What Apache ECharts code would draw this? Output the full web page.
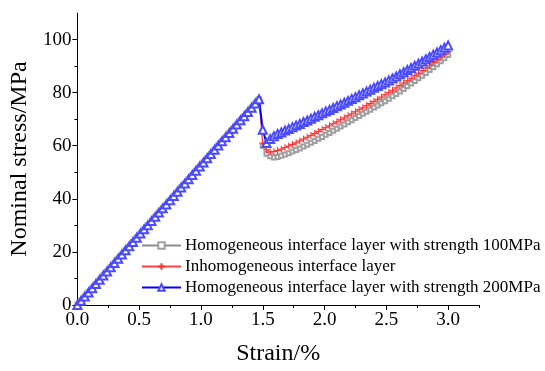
<!DOCTYPE html>
<html>
<head>
<meta charset="utf-8">
<script src="https://cdn.jsdelivr.net/npm/echarts@6/dist/echarts.min.js"></script>
<style>
  html, body { margin: 0; padding: 0; background: #fff; }
  #chart { width: 545px; height: 371px; }
</style>
</head>
<body>
<div id="chart"></div>
<script>
// Loading stage shared by all three models (linear elastic up to the peak)
const elasticStrain = [
  0.00, 0.03, 0.06, 0.09, 0.12, 0.15, 0.18, 0.21, 0.24, 0.27,
  0.30, 0.33, 0.36, 0.39, 0.42, 0.45, 0.48, 0.51, 0.54, 0.57,
  0.60, 0.63, 0.66, 0.69, 0.72, 0.75, 0.78, 0.81, 0.84, 0.87,
  0.90, 0.93, 0.96, 0.99, 1.02, 1.05, 1.08, 1.11, 1.14, 1.17,
  1.20, 1.23, 1.26, 1.29, 1.32, 1.35, 1.38, 1.41, 1.44, 1.47
];
const elasticStress = [
  0.0, 1.6, 3.2, 4.7, 6.3, 7.9, 9.5, 11.1, 12.6, 14.2,
  15.8, 17.4, 19.0, 20.6, 22.1, 23.7, 25.3, 26.9, 28.5, 30.0,
  31.6, 33.2, 34.8, 36.4, 37.9, 39.5, 41.1, 42.7, 44.3, 45.8,
  47.4, 49.0, 50.6, 52.2, 53.7, 55.3, 56.9, 58.5, 60.1, 61.7,
  63.2, 64.8, 66.4, 68.0, 69.6, 71.1, 72.7, 74.3, 75.9, 77.5
];

// Post-peak stage
const softeningStrain = [
  1.50, 1.53, 1.56, 1.59, 1.62, 1.65, 1.68, 1.71, 1.74, 1.77,
  1.80, 1.83, 1.86, 1.89, 1.92, 1.95, 1.98, 2.01, 2.04, 2.07,
  2.10, 2.13, 2.16, 2.19, 2.22, 2.25, 2.28, 2.31, 2.34, 2.37,
  2.40, 2.43, 2.46, 2.49, 2.52, 2.55, 2.58, 2.61, 2.64, 2.67,
  2.70, 2.73, 2.76, 2.79, 2.82, 2.85, 2.88, 2.91, 2.94, 2.97,
  3.00
];
const stressHomo100 = [
  60.0, 57.0, 56.0, 55.6, 55.8, 56.2, 56.7, 57.2, 57.8, 58.4,
  59.0, 59.7, 60.4, 61.1, 61.8, 62.6, 63.3, 64.1, 64.8, 65.6,
  66.4, 67.2, 68.0, 68.8, 69.6, 70.4, 71.2, 72.0, 72.8, 73.6,
  74.4, 75.2, 76.0, 76.8, 77.7, 78.6, 79.5, 80.4, 81.4, 82.4,
  83.4, 84.4, 85.4, 86.4, 87.4, 88.5, 89.6, 90.7, 91.8, 93.0,
  94.2
];
const stressInhomo = [
  61.0, 58.5, 57.6, 57.8, 58.2, 58.7, 59.3, 59.9, 60.5, 61.1,
  61.8, 62.5, 63.2, 63.9, 64.6, 65.4, 66.1, 66.8, 67.5, 68.3,
  69.0, 69.8, 70.5, 71.3, 72.0, 72.8, 73.6, 74.3, 75.1, 75.9,
  76.7, 77.5, 78.3, 79.2, 80.1, 80.9, 81.8, 82.7, 83.6, 84.5,
  85.4, 86.4, 87.3, 88.3, 89.3, 90.3, 91.3, 92.3, 93.4, 94.4,
  95.5
];
const stressHomo200 = [
  66.0, 61.0, 62.5, 63.6, 64.4, 65.0, 65.7, 66.3, 67.0, 67.6,
  68.2, 68.9, 69.5, 70.2, 70.9, 71.5, 72.2, 72.9, 73.5, 74.2,
  74.9, 75.5, 76.2, 76.9, 77.6, 78.3, 79.0, 79.7, 80.4, 81.1,
  81.8, 82.5, 83.2, 83.8, 84.6, 85.3, 86.1, 86.9, 87.7, 88.5,
  89.3, 90.1, 90.9, 91.7, 92.6, 93.4, 94.3, 95.1, 96.0, 96.9,
  97.8
];

const seriesNames = [
  'Homogeneous interface layer with strength 100MPa',
  'Inhomogeneous interface layer',
  'Homogeneous interface layer with strength 200MPa'
];

const xMajorTicks = [0, 0.5, 1.0, 1.5, 2.0, 2.5, 3.0];
const xMinorTicks = [0.25, 0.75, 1.25, 1.75, 2.25, 2.75, 3.25];
const yMajorTicks = [0, 20, 40, 60, 80, 100];
const yMinorTicks = [10, 30, 50, 70, 90];

function curve(post) {
  const pts = elasticStrain.map((s, i) => [s, elasticStress[i]]);
  softeningStrain.forEach((s, i) => pts.push([s, post[i]]));
  return pts;
}

const FONT = '"Liberation Serif", "Times New Roman", serif';
const chart = echarts.init(document.getElementById('chart'), null, { renderer: 'canvas' });

const grid = { left: 77, right: 66, top: 13, bottom: 64, containLabel: false };

function majorAxis(min, max, major, extra) {
  return Object.assign({
    type: 'value', min: min, max: max,
    axisLine: { show: true, lineStyle: { color: '#000', width: 1 } },
    axisTick: { show: true, inside: false, length: 5, customValues: major, lineStyle: { color: '#000' } },
    axisLabel: { show: true, customValues: major, color: '#000', fontFamily: FONT, fontSize: 19, margin: 6 },
    splitLine: { show: false }
  }, extra);
}
function minorAxis(min, max, minor, pos) {
  return {
    type: 'value', min: min, max: max, position: pos,
    axisLine: { show: false },
    axisTick: { show: true, inside: false, length: 3, customValues: minor, lineStyle: { color: '#000' } },
    axisLabel: { show: false },
    splitLine: { show: false }
  };
}

chart.setOption({
  animation: false,
  backgroundColor: '#fff',
  grid: grid,
  xAxis: [
    majorAxis(0, 3.25, xMajorTicks, {
      position: 'bottom',
      name: 'Strain/%', nameLocation: 'middle', nameGap: 37,
      nameTextStyle: { color: '#000', fontFamily: FONT, fontSize: 24 },
      axisLabel: {
        show: true, customValues: xMajorTicks, color: '#000', fontFamily: FONT, fontSize: 19, margin: 6,
        formatter: v => v.toFixed(1)
      }
    }),
    minorAxis(0, 3.25, xMinorTicks, 'bottom')
  ],
  yAxis: [
    majorAxis(0, 110, yMajorTicks, {
      position: 'left',
      name: 'Nominal stress/MPa', nameLocation: 'middle', nameGap: 43, nameRotate: 90,
      nameTextStyle: { color: '#000', fontFamily: FONT, fontSize: 24 }
    }),
    minorAxis(0, 110, yMinorTicks, 'left')
  ],
  legend: {
    orient: 'vertical',
    left: 141, top: 237, padding: 0,
    itemWidth: 39, itemHeight: 8, itemGap: 4,
    textStyle: { color: '#000', fontFamily: FONT, fontSize: 17, padding: [0, 0, 0, -1] },
    data: seriesNames
  },
  series: [
    {
      name: seriesNames[0], type: 'line', data: curve(stressHomo100),
      symbol: 'emptyRect', symbolSize: 4,
      lineStyle: { color: '#8c8c8c', width: 1 },
      itemStyle: { color: '#a0a0a0', borderColor: '#a0a0a0', borderWidth: 1 },
      z: 2
    },
    {
      name: seriesNames[1], type: 'line', data: curve(stressInhomo),
      symbol: 'path://M0,5L10,5M5,0L5,10', symbolSize: 7,
      lineStyle: { color: '#ff4040', width: 1 },
      itemStyle: { color: '#ff3030', borderColor: '#ff3030', borderWidth: 1 },
      z: 3
    },
    {
      name: seriesNames[2], type: 'line', data: curve(stressHomo200),
      symbol: 'emptyTriangle', symbolSize: 8,
      lineStyle: { color: '#0000ff', width: 2 },
      itemStyle: { color: '#4a4aff', borderColor: '#4a4aff', borderWidth: 1 },
      z: 4
    }
  ]
});
</script>
</body>
</html>
